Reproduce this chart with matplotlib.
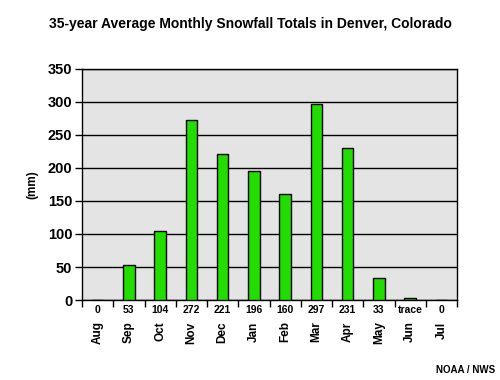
import numpy as np
from matplotlib import pyplot as plt
from matplotlib.ticker import FixedLocator

plt.rcParams['font.family'] = ['Liberation Sans', 'DejaVu Sans']

months = ['Aug', 'Sep', 'Oct', 'Nov', 'Dec', 'Jan', 'Feb', 'Mar', 'Apr', 'May', 'Jun', 'Jul']
snowfall = [0, 53, 104, 272, 221, 196, 160, 297, 231, 33, 3, 0]
value_labels = ['0', '53', '104', '272', '221', '196', '160', '297', '231', '33', 'trace', '0']

fig = plt.figure(figsize=(5, 3.8), dpi=100)
ax = fig.add_axes([0.164, 0.2105, 0.75, 0.608])
ax.set_facecolor('#e4e4e4')

x = np.arange(len(months))
ax.bar(x, snowfall, width=0.37, color='#22dd00', edgecolor='black', linewidth=1, zorder=3)

ax.set_xlim(-0.5, len(months) - 0.5)
ax.set_ylim(0, 350)
ax.set_yticks(np.arange(0, 351, 50))
ax.yaxis.grid(True, color='black', linewidth=1, zorder=1)
ax.set_axisbelow(True)
ax.tick_params(axis='y', labelsize=10.5, length=5, width=1, pad=2)
for lab in ax.get_yticklabels():
    lab.set_fontweight('bold')

ax.set_xticks([])
ax.xaxis.set_minor_locator(FixedLocator(np.arange(-0.5, len(months), 1)))
ax.tick_params(axis='x', which='minor', length=5, width=1)

for s in ax.spines.values():
    s.set_linewidth(1)
    s.set_color('black')

tr = ax.get_xaxis_transform()
for i in range(len(months)):
    ax.text(x[i], -0.043, value_labels[i], transform=tr, ha='center', va='center',
            fontsize=7.5, fontweight='bold')
    ax.text(x[i], -0.093, months[i], transform=tr, ha='center', va='top',
            rotation=90, fontsize=8.5, fontweight='bold')

ax.set_ylabel('(mm)', fontsize=8.5, fontweight='bold')
ax.yaxis.set_label_coords(-0.117, 0.5)

fig.text(0.5, 0.937, '35-year Average Monthly Snowfall Totals in Denver, Colorado',
         ha='center', va='center', fontsize=10, fontweight='bold')
fig.text(0.99, 0.027, 'NOAA / NWS', ha='right', va='center', fontsize=7, fontweight='bold')

fig.savefig('out.png', dpi=100)
